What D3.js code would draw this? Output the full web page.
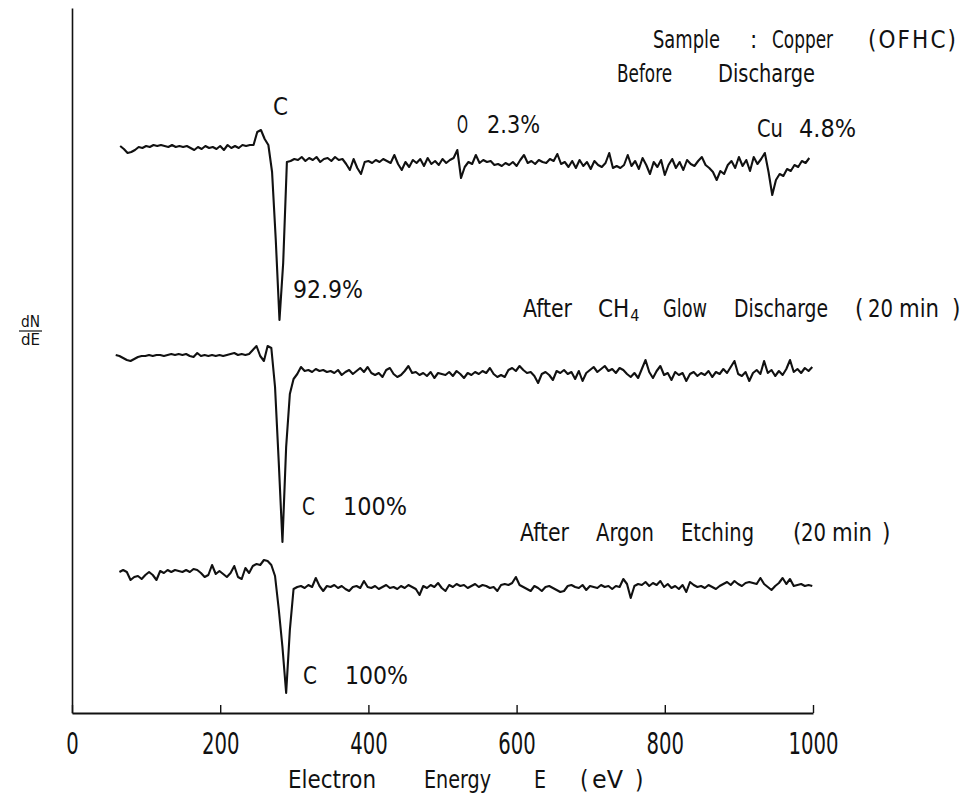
<!DOCTYPE html>
<html>
<head>
<meta charset="utf-8">
<script src="https://cdn.jsdelivr.net/npm/d3@7"></script>
<style>
  html, body { margin: 0; padding: 0; background: #fff; }
  svg { display: block; }
  text { font-family: "Liberation Sans Narrow", "DejaVu Sans Condensed", "Arial Narrow", sans-serif; fill: #111; }
</style>
</head>
<body>
<svg id="chart" width="969" height="800"></svg>
<script>
// Auger spectra (dN/dE, arbitrary units) of OFHC copper, sampled every 5 eV.
const energyTicks = [0, 200, 400, 600, 800, 1000];
const traceStart = [65, 59, 64];      // first sampled energy of each spectrum (eV)
const traceStep = 5;                  // sampling step (eV)
const traceOffset = [551, 341, 126];  // vertical stacking offset of each spectrum (a.u.)

// Before discharge: 65 .. 995 eV
const beforeDischarge = [
  16, 13, 9, 10, 12, 15, 14, 16, 15, 17,
  16, 17, 16, 15, 17, 15, 16, 15, 16, 14,
  12, 15, 13, 16, 14, 15, 13, 16, 12, 17,
  14, 16, 14, 17, 16, 17, 17, 30, 32, 23,
  17, -10, -78, -158, -101, 0, 1, 3, 2, 5,
  1, 4, 2, 5, 0, 3, 4, 1, 5, 2,
  3, -2, -8, 3, -6, -12, 0, 1, -1, 2,
  0, 3, 1, -1, 7, -2, -8, 0, -5, 2,
  -1, 3, -4, 4, -2, 1, -3, 3, -1, 2,
  4, 12, -16, -5, 0, -2, 7, -1, 2, 0,
  1, -3, -2, -4, -1, -3, 0, -4, 2, 7,
  -1, 1, -2, 2, 0, -1, 3, 1, 8, -2,
  0, -5, 1, -6, 2, -4, 0, -7, 1, -3,
  -5, -1, 9, -6, -4, -6, -3, 7, -4, 1,
  -7, 4, -3, -12, 0, -5, 2, -13, -3, 3,
  -6, 0, -8, 2, -2, -4, 1, 5, -3, -6,
  -10, -18, -9, -12, -3, 1, -6, 5, -4, 2,
  -9, 5, -2, 3, 9, -10, -33, -18, -12, -14,
  -7, -9, -3, -5, 1, -1, 4
];

// After CH4 glow discharge (20 min): 59 .. 999 eV
const afterMethane = [
  17, 16, 14, 12, 11, 13, 15, 16, 16, 17,
  16, 17, 17, 16, 17, 18, 17, 18, 17, 18,
  16, 15, 19, 16, 17, 16, 17, 16, 17, 16,
  17, 18, 19, 17, 18, 17, 18, 22, 26, 16,
  11, 26, 24, -15, -90, -170, -75, -22, -7, -2,
  5, 1, 2, 0, 3, 1, 2, 0, 1, -1,
  2, -3, 0, 2, -2, 1, 4, 0, 5, -1,
  -3, -1, -5, 2, 4, -2, -5, -3, 1, 6,
  -1, 0, -3, -1, -4, 0, -6, -1, -2, -3,
  0, -4, 1, -2, -6, -1, -3, 0, -2, 1,
  -1, 4, -2, -5, -3, -5, 2, 4, 1, 6,
  2, -1, 0, -4, -11, -2, 0, -3, -8, 1,
  -1, 2, -2, 0, -7, 1, -9, -1, 2, 5,
  0, 3, 6, 1, 3, -1, 4, 2, -2, -5,
  -1, -6, 3, 12, 0, -6, 1, 6, -3, -1,
  -8, 0, -3, -1, -9, -2, 0, -4, -1, -3,
  1, -5, 0, -2, 3, -1, 5, 11, -2, -4,
  0, -9, -1, 2, -2, 11, -1, 2, -4, 1,
  -3, 3, 12, 0, 3, -1, 4, 1, 5
];

// After argon etching (20 min): 64 .. 999 eV
const afterArgon = [
  15, 17, 15, 7, 10, 11, 8, 12, 15, 12,
  7, 16, 14, 17, 15, 17, 16, 15, 17, 15,
  18, 17, 14, 10, 12, 22, 13, 16, 13, 10,
  14, 21, 10, 8, 19, 14, 21, 23, 22, 27,
  26, 22, 11, -22, -60, -106, -43,
  -2, 0, 1, -1, 2, 0, 9, 1, -4, 1,
  0, 2, -1, 1, -2, -4, 0, 1, -1, 6,
  0, -1, 1, -2, 0, 2, -1, 0, -2, 1,
  -1, 2, 0, -2, -8, 1, -1, 2, 0, 4,
  -1, -4, 2, 0, 3, 1, 2, -1, 1, 3,
  0, 2, 1, -1, 0, -4, 2, 3, 2, 4,
  10, 2, 0, -2, -4, 1, -1, -4, 0, 1,
  -1, -3, -5, -4, 1, 2, 0, -1, 2, -3,
  1, 0, -1, 2, 0, 1, -2, 1, 0, 8,
  3, -11, 1, 3, 2, 5, 1, 4, 2, 6,
  0, 3, -1, 1, -2, 2, -5, 5, 2, 0,
  1, -1, 2, 0, -2, 1, 3, 5, 2, 6,
  3, 1, 4, 5, 4, 3, 9, 3, 0, -3,
  1, 4, 9, 3, 8, 1, 2, 3, 1, 2,
  1
];

const spectra = [beforeDischarge, afterMethane, afterArgon];

const svg = d3.select("#chart");
const x = d3.scaleLinear().domain([0, 1000]).range([72, 813]);
const y = d3.scaleLinear().domain([0, 705]).range([713, 8]);

// spectra
const line = d3.line().x(d => x(d.e)).y(d => y(d.v));
spectra.forEach((vals, i) => {
  const pts = vals.map((v, k) => ({ e: traceStart[i] + k * traceStep, v: v + traceOffset[i] }));
  svg.append("path")
    .datum(pts)
    .attr("d", line)
    .attr("fill", "none")
    .attr("stroke", "#111")
    .attr("stroke-width", 2.1)
    .attr("stroke-linejoin", "round");
});

// axes
const xAxis = d3.axisBottom(x).tickValues(energyTicks).tickFormat(d3.format("d"))
  .tickSizeInner(-8).tickSizeOuter(0).tickPadding(20);
const gx = svg.append("g").attr("transform", `translate(0,${y(0)})`).call(xAxis);
gx.select(".domain").attr("stroke", "#111").attr("stroke-width", 2.2);
gx.selectAll(".tick line").attr("stroke", "#111").attr("stroke-width", 1.4);
gx.selectAll(".tick text")
  .attr("font-size", 30).attr("fill", "#111")
  .style("font-family", "'Liberation Sans Narrow','DejaVu Sans Condensed','Arial Narrow',sans-serif")
  .attr("textLength", d => String(d).length * 12.5)
  .attr("lengthAdjust", "spacingAndGlyphs");

const yAxis = d3.axisLeft(y).tickValues([]).tickSizeOuter(0);
const gy = svg.append("g").attr("transform", `translate(${x(0)},0)`).call(yAxis);
gy.select(".domain").attr("stroke", "#111").attr("stroke-width", 1.6);

// text helper: word from x0 to x1 on baseline yb
function put(str, x0, x1, yb, size, adjust) {
  const t = svg.append("text").attr("x", x0).attr("y", yb).attr("font-size", size).text(str);
  if (x1 != null) t.attr("textLength", x1 - x0).attr("lengthAdjust", adjust || "spacingAndGlyphs");
  return t;
}

const fs = 24;
// header
put("Sample", 653, 720, 48, fs);
put(":", 750, null, 48, fs);
put("Copper", 772, 833, 48, fs);
put("(OFHC)", 868, 956, 48, fs, "spacing");
put("Before", 617, 672, 82, fs);
put("Discharge", 718, 815, 82, fs);

// peak labels, before discharge
put("C", 273, 288, 115, fs);
put("O", 457, 468, 133, fs);
put("2.3%", 487, 540, 133, fs);
put("Cu", 757, 783, 137, fs);
put("4.8%", 799, 856, 137, fs);
put("92.9%", 293, 363, 298, fs);

// after CH4 glow discharge
put("After", 523, 572, 317, fs);
const ch4 = svg.append("text").attr("x", 598).attr("y", 317).attr("font-size", fs);
ch4.append("tspan").text("CH");
ch4.append("tspan").attr("dx", 1).attr("dy", 4).attr("font-size", 16).text("4");
put("Glow", 663, 707, 317, fs);
put("Discharge", 734, 828, 317, fs);
put("(", 855, null, 317, fs);
put("20", 868, 893, 317, fs);
put("min", 899, 939, 317, fs);
put(")", 952, null, 317, fs);
put("C", 302, 315, 515, fs);
put("100%", 343, 407, 515, fs);

// after argon etching
put("After", 520, 569, 541, fs);
put("Argon", 596, 654, 541, fs);
put("Etching", 681, 754, 541, fs);
put("(", 793, null, 541, fs);
put("20", 801, 826, 541, fs);
put("min", 832, 872, 541, fs);
put(")", 882, null, 541, fs);
put("C", 303, 317, 684, fs);
put("100%", 345, 408, 684, fs);

// axis titles
put("Electron", 288, 376, 788, fs);
put("Energy", 424, 491, 788, fs);
put("E", 534, 546, 788, fs);
put("(", 580, null, 788, fs);
put("eV", 592, 623, 788, fs);
put(")", 635, null, 788, fs);

put("dN", 21, 40, 327, 16);
svg.append("line").attr("x1", 19).attr("x2", 42).attr("y1", 331).attr("y2", 331)
  .attr("stroke", "#111").attr("stroke-width", 1.2);
put("dE", 21, 40, 345, 16);
</script>
</body>
</html>
